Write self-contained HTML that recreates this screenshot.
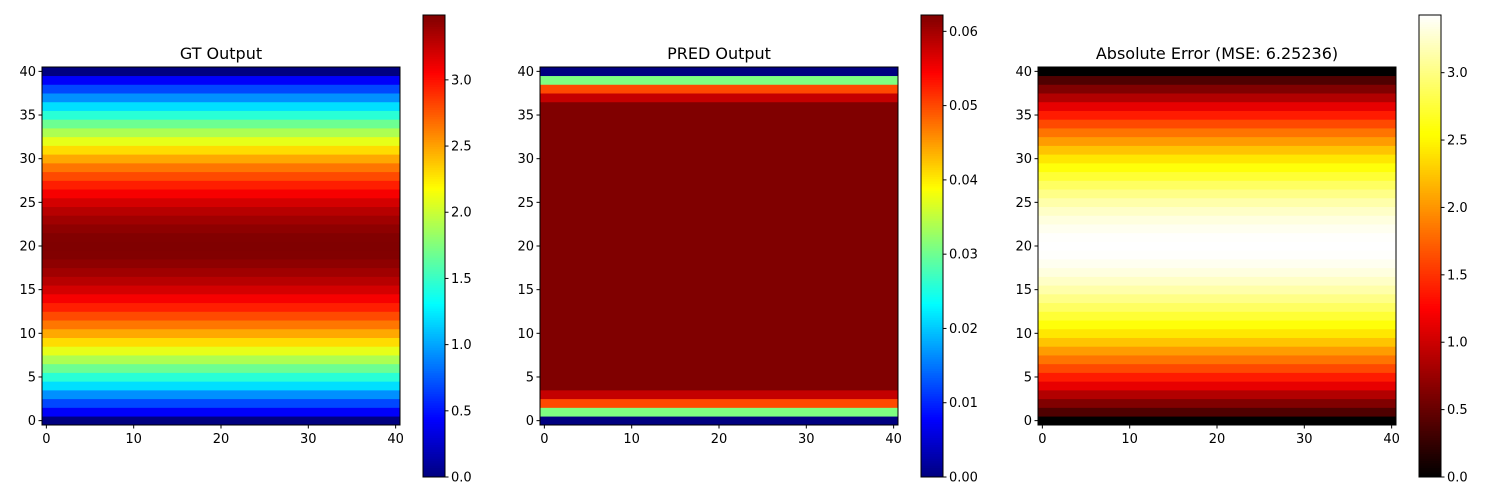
<!DOCTYPE html>
<html><head><meta charset="utf-8"><style>
html,body{margin:0;padding:0;background:#fff;width:1500px;height:500px;overflow:hidden}
svg text{font-family:"DejaVu Sans","Liberation Sans",sans-serif;fill:#000}
</style></head><body>
<svg id="c" width="1500" height="500" xmlns="http://www.w3.org/2000/svg"></svg>
<script>
const halfGT = [0,0.42,0.68,0.93,1.2,1.45,1.68,1.9,2.1,2.3,2.48,2.65,2.8,2.95,3.08,3.2,3.3,3.38,3.44,3.48,3.49];
const gtRows = halfGT.concat(halfGT.slice(0,20).reverse());
const predRows = [0,0.031,0.05,0.058].concat(new Array(33).fill(0.0622),[0.058,0.05,0.031,0]);
const errRows = gtRows.map((v,i)=>Math.abs(v-predRows[i]));
const yTicks = [0,5,10,15,20,25,30,35,40];
const xTicks = [0,10,20,30,40];
const gtCbTicks = [0,0.5,1.0,1.5,2.0,2.5,3.0];
const predCbTicks = [0,0.01,0.02,0.03,0.04,0.05,0.06];
const titles = ["GT Output","PRED Output","Absolute Error (MSE: 6.25236)"];

const NS="http://www.w3.org/2000/svg", svgEl=document.getElementById('c');
function mk(tag,attrs,parent){const e=document.createElementNS(NS,tag);for(const k in attrs)e.setAttribute(k,attrs[k]);(parent||svgEl).appendChild(e);return e;}
const cl=v=>Math.max(0,Math.min(1,v));
function jet(x){return [cl(1.5-Math.abs(4*x-3)),cl(1.5-Math.abs(4*x-2)),cl(1.5-Math.abs(4*x-1))];}
function hot(x){return [cl(x/0.365),cl((x-0.365)/0.375),cl((x-0.746)/0.254)];}
const rgb=c=>`rgb(${Math.round(c[0]*255)},${Math.round(c[1]*255)},${Math.round(c[2]*255)})`;

const panels=[
 {x0:42,cbx:423,rows:gtRows,cmap:jet,ticks:gtCbTicks,fmt:v=>v.toFixed(1),name:'gt'},
 {x0:540,cbx:921,rows:predRows,cmap:jet,ticks:predCbTicks,fmt:v=>v.toFixed(2),name:'pred'},
 {x0:1038,cbx:1419,rows:errRows,cmap:hot,ticks:gtCbTicks,fmt:v=>v.toFixed(1),name:'error'}];
const axTop=67,size=358,n=41,cs=size/n,cbTop=15,cbBot=477,cbW=22;

panels.forEach((p,pi)=>{
  const vmin=Math.min(...p.rows), vmax=Math.max(...p.rows);
  const g=mk('g',{});
  
  
  const xs=v=>p.x0+(v+0.5)*cs, ys=v=>axTop+size-(v+0.5)*cs;
  p.rows.forEach((v,i)=>{
    const r=mk('rect',{x:p.x0,y:ys(i)-cs/2-0.3,width:size,height:cs+0.6,fill:rgb(p.cmap((v-vmin)/(vmax-vmin)))},g);
    
    
  });
  mk('rect',{x:p.x0,y:axTop,width:size,height:size,fill:'none',stroke:'#000','stroke-width':1},g);
  yTicks.forEach(t=>{const y=ys(t);mk('line',{x1:p.x0-3.5,x2:p.x0,y1:y,y2:y,stroke:'#000'},g);
    const tx=mk('text',{x:p.x0-6,y:y+4.5,'text-anchor':'end','font-size':13},g);tx.textContent=t;
    
    });
  xTicks.forEach(t=>{const x=xs(t);mk('line',{x1:x,x2:x,y1:axTop+size,y2:axTop+size+3.5,stroke:'#000'},g);
    const tx=mk('text',{x:x,y:axTop+size+18,'text-anchor':'middle','font-size':13},g);tx.textContent=t;
    
    });
  const tt=mk('text',{x:p.x0+size/2,y:59,'text-anchor':'middle','font-size':16},g);tt.textContent=titles[pi];
  
  
  const cb=mk('g',{},g);
  
  
  const N=200,h=(cbBot-cbTop)/N;
  for(let k=0;k<N;k++){mk('rect',{x:p.cbx,y:cbBot-(k+1)*h-0.3,width:cbW,height:h+0.6,fill:rgb(p.cmap((k+0.5)/N))},cb);}
  mk('rect',{x:p.cbx,y:cbTop,width:cbW,height:cbBot-cbTop,fill:'none',stroke:'#000'},cb);
  const cy=v=>cbBot-(v-vmin)/(vmax-vmin)*(cbBot-cbTop);
  p.ticks.forEach(t=>{const y=cy(t);mk('line',{x1:p.cbx+cbW,x2:p.cbx+cbW+3.5,y1:y,y2:y,stroke:'#000'},cb);
    const tx=mk('text',{x:p.cbx+cbW+6,y:y+4.5,'font-size':13},cb);tx.textContent=p.fmt(t);
    
    });
});
</script>
</body></html>
